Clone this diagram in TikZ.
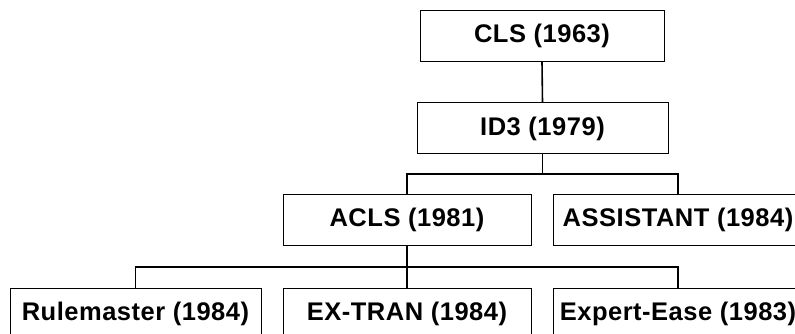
\documentclass[tikz,border=0pt]{standalone}
\usepackage{fontspec}
\setmainfont{Liberation Sans}
\newfontfamily\boxfont[LetterSpace=2]{Liberation Sans}
\begin{document}
\begin{tikzpicture}[x=1pt,y=-1pt,
  box/.style={draw=black,line width=1pt,fill=white,inner sep=0pt,
    minimum height=51pt,font=\boxfont\fontsize{25.5}{30}\selectfont\bfseries},
  conn/.style={draw=black,line width=1.6pt}]
\useasboundingbox[clip] (0,0) rectangle (795,334);
\fill[white] (0,0) rectangle (795,334);
\node[box,minimum width=244pt] (cls) at (542,36) {CLS (1963)};
\node[box,minimum width=251pt] (id3) at (542.5,128.5) {ID3 (1979)};
\node[box,minimum width=248pt] (acls) at (407,220) {ACLS (1981)};
\node[box,minimum width=250pt] (assist) at (678,220) {ASSISTANT (1984)};
\node[box,minimum width=251pt] (rule) at (135.5,314) {Rulemaster (1984)};
\node[box,minimum width=248pt] (extran) at (407,314) {EX-TRAN (1984)};
\node[box,minimum width=250pt] (expert) at (678,314) {Expert-Ease (1983)};
\coordinate (b1) at (0,174);
\coordinate (b2) at (0,267);
\draw[conn] (cls.south) -- (id3.north);
\draw[conn] (id3.south) -- (id3.south |- b1);
\draw[conn] (acls.north) -- (acls.north |- b1) -- (assist.north |- b1) -- (assist.north);
\draw[conn] (acls.south) -- (acls.south |- b2);
\draw[conn] (rule.north) -- (rule.north |- b2) -- (expert.north |- b2) -- (expert.north);
\draw[conn] (extran.north) -- (extran.north |- b2);
\end{tikzpicture}
\end{document}
